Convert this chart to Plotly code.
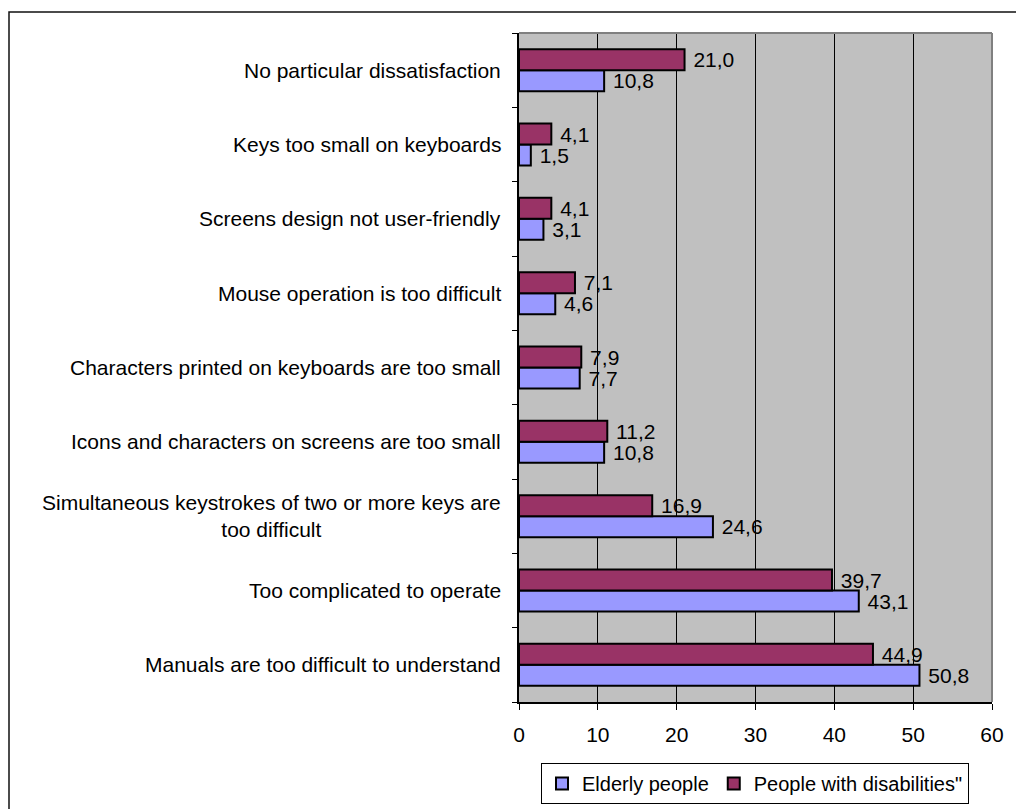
import plotly.graph_objects as go

categories = [
    "Manuals are too difficult to understand",
    "Too complicated to operate",
    "Simultaneous keystrokes of two or more keys are<br>too difficult",
    "Icons and characters on screens are too small",
    "Characters printed on keyboards are too small",
    "Mouse operation is too difficult",
    "Screens design not user-friendly",
    "Keys too small on keyboards",
    "No particular dissatisfaction",
]
elderly = [50.8, 43.1, 24.6, 10.8, 7.7, 4.6, 3.1, 1.5, 10.8]
disabled = [44.9, 39.7, 16.9, 11.2, 7.9, 7.1, 4.1, 4.1, 21.0]
x_ticks = [0, 10, 20, 30, 40, 50, 60]

FONT = "Liberation Sans, Arial, sans-serif"
FS = 21
W, H = 1016, 809
L, R, T, B = 519, 1016 - 992, 33, 809 - 702
pw, ph = W - L - R, H - T - B

def px_x(p):
    return (p - L) / pw

def px_y(p):
    return (H - B - p) / ph

fig = go.Figure()
fig.add_trace(go.Bar(
    y=categories, x=elderly, name="Elderly people", orientation="h",
    marker=dict(color="#9999FF", line=dict(color="black", width=2)),
    texttemplate=" %{x:.1f}", textposition="outside", constraintext="none",
    textfont=dict(family=FONT, size=FS, color="black"), cliponaxis=False,
))
fig.add_trace(go.Bar(
    y=categories, x=disabled, name='People with disabilities"', orientation="h",
    marker=dict(color="#993366", line=dict(color="black", width=2)),
    texttemplate=" %{x:.1f}", textposition="outside", constraintext="none",
    textfont=dict(family=FONT, size=FS, color="black"), cliponaxis=False,
))

annotations = []
for c in categories:
    annotations.append(dict(
        x=px_x(503), xref="paper", y=c, yref="y", text=c, showarrow=False,
        xanchor="right", align="center",
        font=dict(family=FONT, size=FS, color="black"),
    ))

shapes = [
    # outer chart border
    dict(type="rect", xref="paper", yref="paper",
         x0=px_x(9), x1=px_x(1030), y0=px_y(830), y1=px_y(12),
         line=dict(color="#111", width=1.5), layer="below"),
    # grey plot frame top/right
    dict(type="line", xref="paper", yref="paper", x0=0, x1=1, y0=1, y1=1,
         line=dict(color="#808080", width=2)),
    dict(type="line", xref="paper", yref="paper", x0=1, x1=1, y0=0, y1=1,
         line=dict(color="#808080", width=2)),
]

fig.update_layout(
    width=W, height=H,
    margin=dict(l=L, r=R, t=T, b=B, autoexpand=False),
    paper_bgcolor="white", plot_bgcolor="#C0C0C0",
    barmode="group", bargap=0.435, bargroupgap=0,
    separators=",.",
    font=dict(family=FONT, size=FS, color="black"),
    annotations=annotations, shapes=shapes,
    legend=dict(
        orientation="h", x=px_x(755), xanchor="center", y=px_y(804), yanchor="bottom",
        bordercolor="black", borderwidth=1, bgcolor="white",
        font=dict(family=FONT, size=20, color="black"),
        itemwidth=30, traceorder="normal", tracegroupgap=0,
    ),
    showlegend=True,
)
fig.update_xaxes(
    range=[0, 60], tickvals=x_ticks, ticks="outside", ticklen=6, tickcolor="black",
    showgrid=True, gridcolor="black", gridwidth=1, zeroline=False,
    showline=True, linecolor="black", linewidth=1.5,
    tickfont=dict(family=FONT, size=FS, color="black"), ticklabelstandoff=7,
)
fig.update_yaxes(
    type="category", categoryorder="array", categoryarray=categories,
    tickson="boundaries", ticks="outside", ticklen=5, tickcolor="black",
    showticklabels=False, showgrid=False,
    showline=True, linecolor="black", linewidth=1.5,
)

fig.write_html("out.html")
